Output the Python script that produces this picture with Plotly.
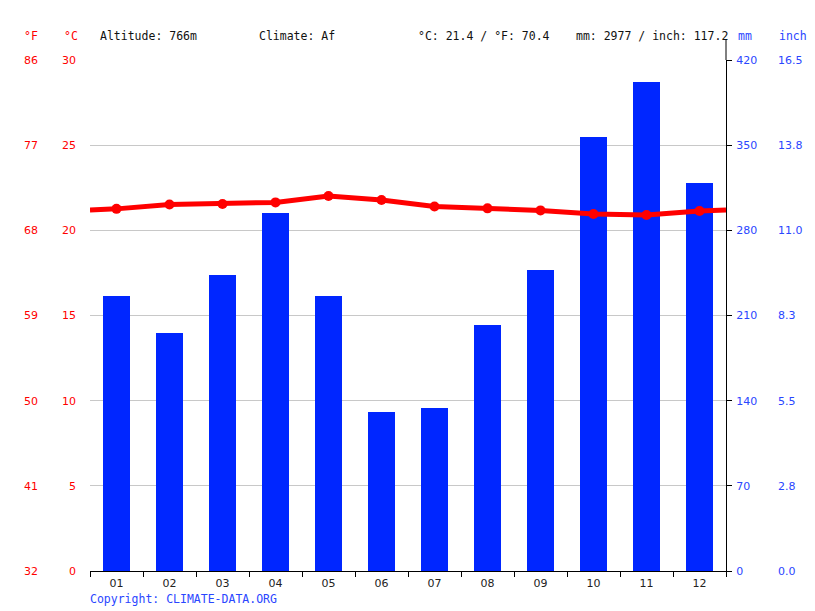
import plotly.graph_objects as go

months = ["01", "02", "03", "04", "05", "06", "07", "08", "09", "10", "11", "12"]
precip_mm = [226, 196, 243, 294, 226, 131, 134, 202, 247, 357, 402, 319]
temp_c = [21.26, 21.52, 21.55, 21.64, 22.02, 21.78, 21.40, 21.29, 21.17, 20.96, 20.90, 21.14]

c_ticks = [0, 5, 10, 15, 20, 25, 30]
f_ticks = ["32", "41", "50", "59", "68", "77", "86"]
mm_ticks = [0, 70, 140, 210, 280, 350, 420]
inch_ticks = ["0.0", "2.8", "5.5", "8.3", "11.0", "13.8", "16.5"]

W, H = 815, 611
L, R, T, B = 90, 726, 60, 571
RED = "#ff0000"
BLUE = "#0026ff"
TBLUE = "#2a46ff"
MONO = "DejaVu Sans Mono"
SANS = "DejaVu Sans"

xs = list(range(1, 13))
edge = (temp_c[0] + temp_c[-1]) / 2
line_x = [0.5] + xs + [12.5]
line_y = [edge] + temp_c + [edge]

fig = go.Figure()
fig.add_trace(go.Bar(x=xs, y=precip_mm, marker=dict(color=BLUE, line=dict(width=0)),
                     width=0.52, yaxis="y", showlegend=False))
fig.add_trace(go.Scatter(x=line_x, y=line_y, mode="lines", line=dict(color=RED, width=5),
                         yaxis="y2", showlegend=False, hoverinfo="skip"))
fig.add_trace(go.Scatter(x=xs, y=temp_c, mode="markers", marker=dict(color=RED, size=10),
                         yaxis="y2", showlegend=False))
fig.add_trace(go.Scatter(x=[None], y=[None], yaxis="y3", showlegend=False))
fig.add_trace(go.Scatter(x=[None], y=[None], yaxis="y4", showlegend=False))

dom_x = [L / W, R / W]
dom_y = [(H - B) / H, (H - T) / H]

fig.update_layout(
    width=W, height=H,
    margin=dict(l=0, r=0, t=0, b=0, autoexpand=False),
    paper_bgcolor="white", plot_bgcolor="white",
    xaxis=dict(domain=dom_x, range=[0.5, 12.5], tickvals=xs, ticktext=months,
               ticks="", showgrid=False, zeroline=False, automargin=False,
               showline=True, linecolor="black", linewidth=1,
               ticklabelstandoff=2,
               tickfont=dict(family=SANS, size=11, color="#222"),
               minor=dict(tickvals=[i + 0.5 for i in range(0, 13)], ticks="outside",
                          ticklen=5, tickcolor="black", showgrid=False)),
    yaxis=dict(domain=dom_y, range=[0, 420], side="right", anchor="x",
               tickvals=mm_ticks, ticktext=[str(v) for v in mm_ticks],
               showgrid=True, gridcolor="#c8c8c8", gridwidth=1, zeroline=False,
               showline=True, linecolor="black", linewidth=1, automargin=False,
               ticks="outside", ticklen=5, tickcolor="black", ticklabelstandoff=2,
               tickfont=dict(family=SANS, size=11, color=TBLUE)),
    yaxis2=dict(range=[0, 30], overlaying="y", side="left", anchor="x",
                tickvals=c_ticks, ticktext=[str(v) for v in c_ticks],
                showgrid=False, zeroline=False, showline=False, ticks="",
                ticklabelstandoff=13, automargin=False,
                tickfont=dict(family=SANS, size=11, color=RED)),
    yaxis3=dict(range=[0, 30], overlaying="y", side="left", anchor="free",
                position=38 / W, tickvals=c_ticks, ticktext=f_ticks,
                showgrid=False, zeroline=False, showline=False, ticks="",
                automargin=False,
                tickfont=dict(family=SANS, size=11, color=RED)),
    yaxis4=dict(range=[0, 420], overlaying="y", side="right", anchor="free",
                position=777 / W, tickvals=mm_ticks, ticktext=inch_ticks,
                showgrid=False, zeroline=False, showline=False, ticks="",
                automargin=False,
                tickfont=dict(family=SANS, size=11, color=TBLUE)),
    bargap=0,
)


def py(p):
    return (H - p) / H


header = [
    (24, "°F", RED), (64, "°C", RED),
    (100, "Altitude: 766m", "#111"), (259, "Climate: Af", "#111"),
    (418, "°C: 21.4 / °F: 70.4", "#111"), (576, "mm: 2977 / inch: 117.2", "#111"),
    (738, "mm", TBLUE), (779, "inch", TBLUE),
]
for x, t, col in header:
    fig.add_annotation(x=(x - 2) / W, y=py(36), xref="paper", yref="paper", text=t,
                       showarrow=False, xanchor="left", yanchor="middle",
                       font=dict(family=MONO, size=11.5, color=col))
fig.add_annotation(x=88 / W, y=py(599), xref="paper", yref="paper",
                   text="Copyright: CLIMATE-DATA.ORG", showarrow=False,
                   xanchor="left", yanchor="middle",
                   font=dict(family=MONO, size=11.5, color=TBLUE))
fig.add_shape(type="line", xref="paper", yref="paper", x0=R / W, x1=R / W,
              y0=py(T), y1=py(40), line=dict(color="black", width=1))

fig.write_html("out.html")
